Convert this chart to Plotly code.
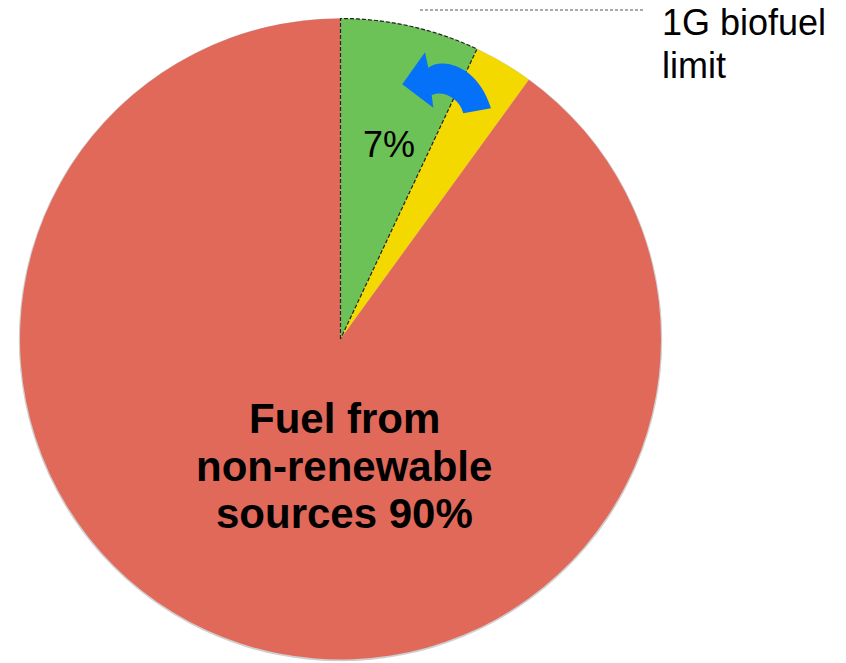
import plotly.graph_objects as go
import numpy as np

# ---- data ----
labels = ["1G biofuel", "Other renewable", "Fuel from non-renewable sources"]
values = [7, 3, 90]
colors = ["#6CC157", "#F3D900", "#E1695A"]
main_label_lines = ["Fuel from", "non-renewable", "sources 90%"]
green_label = "7%"
limit_label_lines = ["1G biofuel", "limit"]

W, H = 846, 663
# pie box in pixels
px0, px1 = 20, 661
py0, py1 = 18, 660
cx, cy = (px0 + px1) / 2, (py0 + py1) / 2
R = min(px1 - px0, py1 - py0) / 2

fig = go.Figure()

# invisible pixel-coordinate axes
fig.update_layout(
    width=W, height=H, margin=dict(l=0, r=0, t=0, b=0),
    paper_bgcolor="white", plot_bgcolor="rgba(0,0,0,0)",
    showlegend=False,
    xaxis=dict(range=[0, W], visible=False, fixedrange=True, domain=[0, 1]),
    yaxis=dict(range=[H, 0], visible=False, fixedrange=True, domain=[0, 1]),
)

fig.add_trace(go.Pie(
    labels=labels, values=values, sort=False, direction="clockwise", rotation=0,
    marker=dict(colors=colors, line=dict(width=0)),
    textinfo="none", hoverinfo="skip",
    domain=dict(x=[px0 / W, px1 / W], y=[1 - py1 / H, 1 - py0 / H]),
))

# soft shadow ring under the pie
fig.add_shape(type="circle", xref="x", yref="y", layer="below",
              x0=cx - R - 1.2, x1=cx + R + 1.2, y0=cy - R - 0.3, y1=cy + R + 1.8,
              fillcolor="#cfcfcf", line=dict(width=0))

# dashed outline of the first slice, derived from its share (drawn above the pie)
frac = values[0] / sum(values)
ang = np.linspace(0, frac * 2 * np.pi, 60)
ox = np.concatenate([[cx], cx + R * np.sin(ang), [cx]])
oy = np.concatenate([[cy], cy - R * np.cos(ang), [cy]])
outline = "M " + " L ".join("%.2f,%.2f" % (a, b) for a, b in zip(ox, oy))
fig.add_shape(type="path", path=outline, xref="x", yref="y", layer="above",
              line=dict(color="#222222", width=1.2, dash="4px,2px"))

# dashed limit line
fig.add_shape(type="line", xref="x", yref="y", x0=420, x1=645, y0=10, y1=10,
              line=dict(color="#555555", width=1, dash="3px,2px"))

# blue curved arrow
arrow_path = ("M 402.3,84.3 L 425,52.3 L 428.3,67.7 "
              "C 442,57 478,65 491,108.3 L 463.3,113.3 "
              "C 459,97 442,90 431.7,95 L 433.3,107.7 Z")
fig.add_shape(type="path", path=arrow_path, xref="x", yref="y", layer="above",
              fillcolor="#0571F8", line=dict(width=0))

font_b = dict(family="Arial, Liberation Sans, sans-serif", size=42, color="black")
for t, yb in zip(main_label_lines, [433, 481, 528]):
    fig.add_annotation(x=344, y=yb - 15, xref="x", yref="y", text="<b>%s</b>" % t,
                       showarrow=False, font=font_b, xanchor="center", yanchor="middle")

fig.add_annotation(x=389, y=144, xref="x", yref="y", text=green_label, showarrow=False,
                   font=dict(family="Arial, Liberation Sans, sans-serif", size=36, color="black"),
                   xanchor="center", yanchor="middle")

for t, yb in zip(limit_label_lines, [35, 78]):
    fig.add_annotation(x=660, y=yb - 13, xref="x", yref="y", text=t, showarrow=False,
                       font=dict(family="Arial, Liberation Sans, sans-serif", size=36, color="black"),
                       xanchor="left", yanchor="middle")

fig.write_html("out.html")
